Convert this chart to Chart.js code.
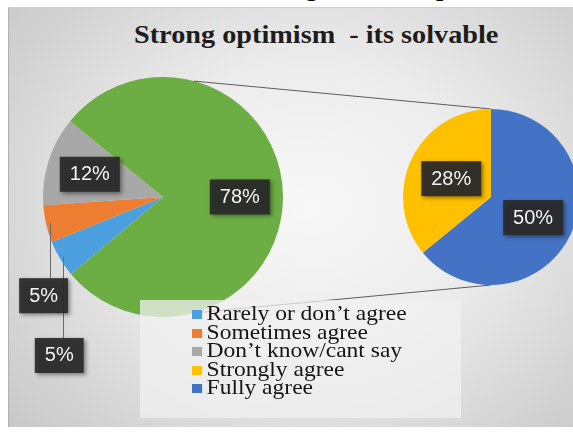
<!DOCTYPE html>
<html>
<head>
<meta charset="utf-8">
<script src="https://cdn.jsdelivr.net/npm/chart.js@4"></script>
<style>
  html, body { margin: 0; padding: 0; background: #fff; width: 573px; height: 432px; overflow: hidden; }
  #frame {
    position: absolute; left: 8px; top: 7px; width: 570px; height: 419px;
    background: radial-gradient(ellipse 75% 85% at 53% 47%, #f8f8f8 0%, #ececec 40%, #c4c4c4 100%);
    border-top: 1px solid #cfcfcf; border-left: 1px solid #b0b0b0;
  }
  .head { position: absolute; top: -27px; font: bold 26px "Liberation Serif"; color: #000; }
  #title {
    position: absolute; left: 134px; top: 21px; transform: scaleX(1.13); transform-origin: 0 0;
    font: bold 25px "Liberation Serif"; color: #1d1d1d; white-space: pre;
  }
  canvas { position: absolute; left: 0; top: 0; }
  #legend {
    position: absolute; left: 140px; top: 300px; width: 321px; height: 118px;
    background: rgba(240, 240, 240, 0.75);
  }
  #legend div {
    position: absolute; left: 52px; height: 19px; line-height: 19px;
    font: 21px "Liberation Serif"; color: #151515; white-space: nowrap;
    transform: scaleX(1.12); transform-origin: 0 50%;
  }
  #legend span { display: inline-block; width: 9px; height: 9px; margin-right: 4px; vertical-align: 1px; }
</style>
</head>
<body>
<div class="head" style="left:305px">g</div>
<div class="head" style="left:436px">p</div>
<div id="frame"></div>
<div id="title">Strong optimism  - its solvable</div>
<canvas id="mainPie" width="573" height="432"></canvas>
<canvas id="subPie" width="600" height="432"></canvas>
<div id="legend"></div>
<script>
const mainLabels = ["Rarely or don’t agree", "Sometimes agree", "Don’t know/cant say", "Strongly / fully agree"];
const mainValues = [5, 5, 12, 78];
const mainColors = ["#4DA0E0", "#ED7D31", "#A8A8A8", "#6DAE44"];

const subLabels = ["Fully agree", "Strongly agree"];
const subValues = [50, 28];
const subColors = ["#4472C4", "#FFC000"];

const legendLabels = ["Rarely or don’t agree", "Sometimes agree", "Don’t know/cant say", "Strongly agree", "Fully agree"];
const legendColors = ["#4DA0E0", "#ED7D31", "#A8A8A8", "#FFC000", "#4472C4"];

// dark percentage boxes, placed from each arc's geometry
const boxLabels = {
  id: "boxLabels",
  afterDatasetsDraw(chart, args, opts) {
    const ctx = chart.ctx;
    const arcs = chart.getDatasetMeta(0).data;
    const values = chart.data.datasets[0].data;
    const boxes = [];
    ctx.save();
    arcs.forEach((arc, i) => {
      const cfg = opts.items[i];
      if (!cfg) return;
      const mid = (arc.startAngle + arc.endAngle) / 2;
      const px = arc.x + Math.cos(mid) * arc.outerRadius * cfg.r;
      const py = arc.y + Math.sin(mid) * arc.outerRadius * cfg.r;
      if (cfg.drop) {
        ctx.strokeStyle = "#6a6a6a";
        ctx.lineWidth = 1;
        ctx.beginPath();
        ctx.moveTo(Math.round(px) + 0.5, py);
        ctx.lineTo(Math.round(px) + 0.5, py + cfg.drop);
        ctx.stroke();
        boxes.push({ x: px + cfg.dx, y: py + cfg.drop + 17, v: values[i] });
      } else {
        boxes.push({ x: px, y: py, v: values[i] });
      }
    });
    ctx.font = "20px 'Liberation Sans'";
    ctx.textAlign = "center";
    ctx.textBaseline = "middle";
    boxes.forEach(b => {
      const txt = b.v + "%";
      const w = ctx.measureText(txt).width + 20;
      ctx.shadowColor = "rgba(0,0,0,0.45)";
      ctx.shadowBlur = 4;
      ctx.shadowOffsetX = 2;
      ctx.shadowOffsetY = 2;
      ctx.fillStyle = "rgba(42,42,42,0.93)";
      ctx.fillRect(b.x - w / 2, b.y - 17, w, 35);
      ctx.shadowColor = "transparent";
      ctx.fillStyle = "#f4f4f4";
      ctx.fillText(txt, b.x, b.y + 1);
    });
    ctx.restore();
  }
};

// lines joining the main pie to the breakdown pie
const connectors = {
  id: "connectors",
  beforeDatasetsDraw(chart, args, opts) {
    const left = window.mainChart.getDatasetMeta(0).data[0];
    const right = chart.getDatasetMeta(0).data[0];
    const ctx = chart.ctx;
    ctx.save();
    ctx.strokeStyle = "#5c5c5c";
    ctx.lineWidth = 1;
    opts.angles.forEach((deg, k) => {
      const a = (deg - 90) * Math.PI / 180;
      ctx.beginPath();
      ctx.moveTo(left.x + Math.cos(a) * left.outerRadius, left.y + Math.sin(a) * left.outerRadius);
      ctx.lineTo(right.x, right.y + (k === 0 ? -1 : 1) * right.outerRadius);
      ctx.stroke();
    });
    ctx.restore();
  }
};

window.mainChart = new Chart(document.getElementById("mainPie"), {
  type: "pie",
  data: {
    labels: mainLabels,
    datasets: [{ data: mainValues, backgroundColor: mainColors, borderWidth: 0 }]
  },
  options: {
    responsive: false,
    animation: false,
    rotation: 230,
    layout: { padding: { left: 43, right: 290, top: 77, bottom: 115 } },
    plugins: {
      legend: { display: false },
      tooltip: { enabled: false },
      boxLabels: {
        items: [
          { r: 0.97, drop: 81, dx: -4 },
          { r: 0.97, drop: 55, dx: -6 },
          { r: 0.64 },
          { r: 0.64 }
        ]
      }
    }
  },
  plugins: [boxLabels]
});

window.subChart = new Chart(document.getElementById("subPie"), {
  type: "pie",
  data: {
    labels: subLabels,
    datasets: [{ data: subValues, backgroundColor: subColors, borderWidth: 0 }]
  },
  options: {
    responsive: false,
    animation: false,
    rotation: 0,
    layout: { padding: { left: 403, right: 21, top: 109, bottom: 147 } },
    plugins: {
      legend: { display: false },
      tooltip: { enabled: false },
      connectors: { angles: [15, 165] },
      boxLabels: { items: [{ r: 0.53 }, { r: 0.5 }] }
    }
  },
  plugins: [connectors, boxLabels]
});

const legendEl = document.getElementById("legend");
legendLabels.forEach((name, i) => {
  const row = document.createElement("div");
  row.style.top = (1 + i * 18.5) + "px";
  row.innerHTML = '<span style="background:' + legendColors[i] + '"></span>' + name;
  legendEl.appendChild(row);
});
</script>
</body>
</html>
